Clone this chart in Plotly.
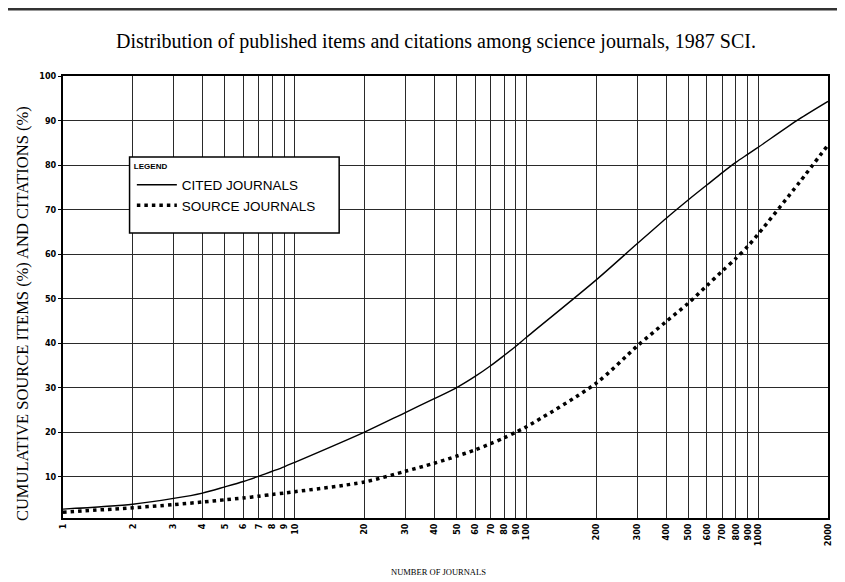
import plotly.graph_objects as go

# ---- data ----
journals = [1, 2, 3, 4, 5, 6, 7, 8, 9, 10, 20, 30, 40, 50, 60, 70, 80, 90, 100,
            200, 300, 400, 500, 600, 700, 800, 900, 1000, 1500, 2000]
cited = [2.7, 3.8, 5.1, 6.3, 7.7, 8.9, 10.1, 11.2, 12.2, 13.2, 20.0, 24.4, 27.5,
         30.0, 32.5, 34.9, 37.2, 39.3, 41.3, 54.2, 62.3, 68.0, 72.2, 75.5, 78.3,
         80.6, 82.4, 84.0, 90.3, 94.3]
source = [2.0, 3.0, 3.7, 4.3, 4.8, 5.2, 5.6, 6.0, 6.3, 6.6, 8.8, 11.2, 13.0, 14.6,
          16.0, 17.4, 18.7, 20.0, 21.2, 31.0, 39.3, 44.8, 49.0, 52.9, 56.2, 59.0,
          61.7, 64.5, 76.0, 84.5]
x_ticks = [1, 2, 3, 4, 5, 6, 7, 8, 9, 10, 20, 30, 40, 50, 60, 70, 80, 90, 100,
           200, 300, 400, 500, 600, 700, 800, 900, 1000, 2000]
x_tick_labels = [str(v) for v in x_ticks]
y_ticks = [10, 20, 30, 40, 50, 60, 70, 80, 90, 100]
y_tick_labels = [str(v) for v in y_ticks]

title_text = "Distribution of published items and citations among science journals, 1987 SCI."
y_title = "CUMULATIVE SOURCE ITEMS (%) AND CITATIONS (%)"
x_title = "NUMBER OF JOURNALS"

SERIF = "Liberation Serif, Times New Roman, serif"
NARROW = "Liberation Sans Narrow, DejaVu Sans Condensed, Arial Narrow, sans-serif"
SANS = "Liberation Sans, Arial, Helvetica, sans-serif"

fig = go.Figure()
fig.add_trace(go.Scatter(
    x=journals, y=cited, mode="lines", name="CITED JOURNALS",
    line=dict(color="black", width=1.4, shape="spline", smoothing=0.8),
))
fig.add_trace(go.Scatter(
    x=journals, y=source, mode="lines", name="SOURCE JOURNALS",
    line=dict(color="black", width=3.5, dash="3.5px,4px", shape="spline", smoothing=0.8),
))

fig.update_xaxes(
    type="log", range=[0, 3.30103], tickvals=x_ticks, ticktext=x_tick_labels,
    tickangle=-90, tickfont=dict(family=NARROW, size=9, color="black", weight="bold"),
    showgrid=True, gridcolor="#2a2a2a", gridwidth=1,
    showline=True, linecolor="black", linewidth=2, mirror=True,
    ticks="", zeroline=False,
)
fig.update_yaxes(
    range=[0.7, 100], tickvals=y_ticks, ticktext=y_tick_labels,
    tickfont=dict(family=NARROW, size=9, color="black", weight="bold"),
    showgrid=True, gridcolor="#2a2a2a", gridwidth=1,
    showline=True, linecolor="black", linewidth=2, mirror=True,
    ticks="outside", ticklen=3, tickcolor="black", zeroline=False,
)

# legend box (white, covers the grid)
fig.add_shape(type="rect", xref="paper", yref="paper",
              x0=0.087, x1=0.361, y0=0.645, y1=0.817,
              fillcolor="white", line=dict(color="black", width=1.5), layer="above")
# scan border line at the very top of the page
fig.add_shape(type="line", xref="paper", yref="paper",
              x0=-0.072, x1=1.02, y0=1.151, y1=1.151,
              line=dict(color="#333333", width=2.5))

fig.add_annotation(text=title_text, xref="paper", yref="paper", x=0.488, y=1.077,
                   xanchor="center", yanchor="middle", showarrow=False,
                   font=dict(family=SERIF, size=20, color="black"))
fig.add_annotation(text=y_title, xref="paper", yref="paper", x=-0.0535, y=0.4615,
                   xanchor="center", yanchor="middle", textangle=-90, showarrow=False,
                   font=dict(family=SERIF, size=16.5, color="black"))
fig.add_annotation(text=x_title, xref="paper", yref="paper", x=0.4915, y=-0.122,
                   xanchor="center", yanchor="middle", showarrow=False,
                   font=dict(family=SERIF, size=8.5, color="black"))

# page body has an 8px margin: figure is sized so that the plot sits where the
# reference has it inside the 845x582 window
fig.update_layout(
    width=837, height=574,
    margin=dict(l=55, r=15, t=68, b=64),
    paper_bgcolor="white", plot_bgcolor="white",
    showlegend=True,
    legend=dict(
        x=0.09, y=0.812, xanchor="left", yanchor="top",
        bgcolor="rgba(0,0,0,0)", borderwidth=0,
        title=dict(text="LEGEND", font=dict(family=SANS, size=8, color="black", weight="bold")),
        font=dict(family=SANS, size=13.5, color="black"),
        itemwidth=40, tracegroupgap=0,
    ),
)

fig.write_html("out.html")
